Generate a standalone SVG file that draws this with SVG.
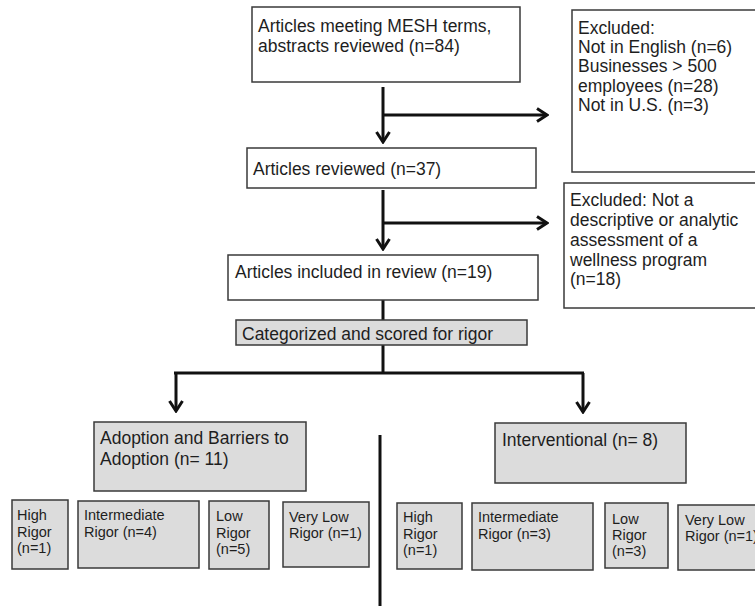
<svg xmlns="http://www.w3.org/2000/svg" width="755" height="609" viewBox="0 0 755 609">
<style>
  .box{fill:#fff;stroke:#3a3a3a;stroke-width:1.5}
  .gbox{fill:#dcdcdc;stroke:#3a3a3a;stroke-width:1.5}
  .t{font-family:"Liberation Sans",Arial,sans-serif;font-size:17.5px;fill:#1e1e1e}
  .s{font-family:"Liberation Sans",Arial,sans-serif;font-size:14.5px;fill:#1e1e1e}
  .ln{stroke:#111;stroke-width:3;fill:none}
</style>
<defs>
  <marker id="ah" markerUnits="userSpaceOnUse" viewBox="0 0 14 16" refX="12" refY="8" markerWidth="14" markerHeight="16" orient="auto">
    <path d="M2,1.5 L12,8 L2,14.5" fill="none" stroke="#111" stroke-width="3" stroke-linejoin="miter"/>
  </marker>
</defs>
<rect width="755" height="609" fill="#fff"/>
<g id="connectors">
  <line class="ln" x1="383" y1="87" x2="383" y2="142" marker-end="url(#ah)"/>
  <line class="ln" x1="383" y1="115" x2="547" y2="115" marker-end="url(#ah)"/>
  <line class="ln" x1="383" y1="190" x2="383" y2="249" marker-end="url(#ah)"/>
  <line class="ln" x1="383" y1="223" x2="547" y2="223" marker-end="url(#ah)"/>
  <line class="ln" x1="383" y1="300" x2="383" y2="320"/>
  <line class="ln" x1="383" y1="345" x2="383" y2="373"/>
  <line class="ln" x1="174" y1="373" x2="584" y2="373"/>
  <line class="ln" x1="176" y1="373" x2="176" y2="411" marker-end="url(#ah)"/>
  <line class="ln" x1="583" y1="373" x2="583" y2="412" marker-end="url(#ah)"/>
  <line class="ln" x1="380" y1="435" x2="380" y2="606"/>
</g>
<g id="n-mesh">
  <rect class="box" x="252" y="7" width="268" height="75"/>
  <text class="t" x="258" y="32">Articles meeting MESH terms,</text>
  <text class="t" x="258" y="52">abstracts reviewed (n=84)</text>
</g>
<g id="n-excl1">
  <rect class="box" x="572" y="10" width="190" height="162"/>
  <text class="t" x="578" y="34">Excluded:</text>
  <text class="t" x="578" y="53">Not in English (n=6)</text>
  <text class="t" x="578" y="72">Businesses &gt; 500</text>
  <text class="t" x="578" y="92">employees (n=28)</text>
  <text class="t" x="578" y="111">Not in U.S. (n=3)</text>
</g>
<g id="n-reviewed">
  <rect class="box" x="247" y="148" width="289" height="40"/>
  <text class="t" x="253" y="175">Articles reviewed (n=37)</text>
</g>
<g id="n-excl2">
  <rect class="box" x="564" y="183" width="198" height="125"/>
  <text class="t" x="570" y="206">Excluded: Not a</text>
  <text class="t" x="570" y="226">descriptive or analytic</text>
  <text class="t" x="570" y="246">assessment of a</text>
  <text class="t" x="570" y="266">wellness program</text>
  <text class="t" x="570" y="285">(n=18)</text>
</g>
<g id="n-included">
  <rect class="box" x="228" y="255" width="310" height="45"/>
  <text class="t" x="235" y="278">Articles included in review (n=19)</text>
</g>
<g id="n-cat">
  <rect class="gbox" x="236" y="320" width="291" height="25"/>
  <text class="t" x="242" y="340">Categorized and scored for rigor</text>
</g>
<g id="n-adoption">
  <rect class="gbox" x="94" y="422" width="212" height="69"/>
  <text class="t" x="100" y="444">Adoption and Barriers to</text>
  <text class="t" x="100" y="465">Adoption (n= 11)</text>
</g>
<g id="n-interv">
  <rect class="gbox" x="495" y="423" width="191" height="60"/>
  <text class="t" x="502" y="446">Interventional (n= 8)</text>
</g>
<g id="n-a-high">
  <rect class="gbox" x="12" y="500" width="56" height="69"/>
  <text class="s" x="17" y="520">High</text>
  <text class="s" x="17" y="537">Rigor</text>
  <text class="s" x="17" y="553">(n=1)</text>
</g>
<g id="n-a-inter">
  <rect class="gbox" x="78" y="501" width="121" height="67"/>
  <text class="s" x="84" y="520">Intermediate</text>
  <text class="s" x="84" y="537">Rigor (n=4)</text>
</g>
<g id="n-a-low">
  <rect class="gbox" x="209" y="501" width="60" height="68"/>
  <text class="s" x="216" y="521">Low</text>
  <text class="s" x="216" y="538">Rigor</text>
  <text class="s" x="216" y="554">(n=5)</text>
</g>
<g id="n-a-vlow">
  <rect class="gbox" x="283" y="502" width="86" height="65"/>
  <text class="s" x="289" y="522">Very Low</text>
  <text class="s" x="289" y="538">Rigor (n=1)</text>
</g>
<g id="n-i-high">
  <rect class="gbox" x="397" y="503" width="65" height="66"/>
  <text class="s" x="403" y="522">High</text>
  <text class="s" x="403" y="539">Rigor</text>
  <text class="s" x="403" y="555">(n=1)</text>
</g>
<g id="n-i-inter">
  <rect class="gbox" x="472" y="503" width="121" height="67"/>
  <text class="s" x="478" y="522">Intermediate</text>
  <text class="s" x="478" y="539">Rigor (n=3)</text>
</g>
<g id="n-i-low">
  <rect class="gbox" x="605" y="503" width="63" height="65"/>
  <text class="s" x="612" y="524">Low</text>
  <text class="s" x="612" y="540">Rigor</text>
  <text class="s" x="612" y="556">(n=3)</text>
</g>
<g id="n-i-vlow">
  <rect class="gbox" x="678" y="505" width="90" height="65"/>
  <text class="s" x="685" y="525">Very Low</text>
  <text class="s" x="685" y="541">Rigor (n=1)</text>
</g>
</svg>
